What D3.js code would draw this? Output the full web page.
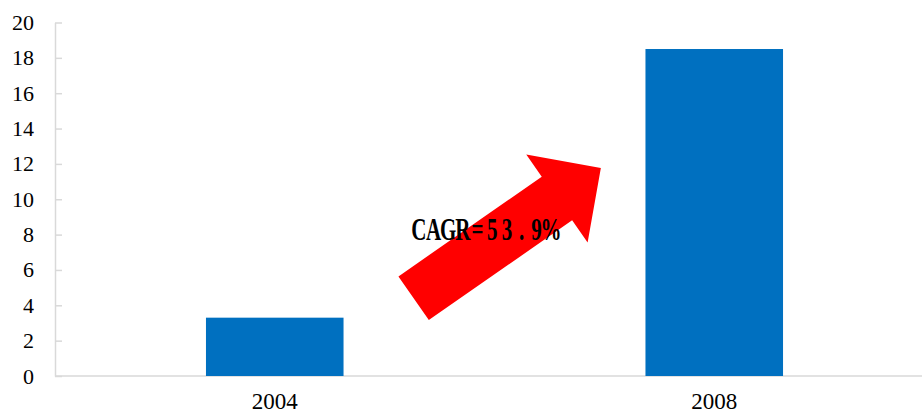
<!DOCTYPE html>
<meta charset="utf-8">
<style type="text/css">
	body { margin: 0; background: #fff; }
	.axis path, .axis line { stroke: #d9d9d9; stroke-width: 1.5px; }
	.axis text { font-family: "Liberation Serif", "Times New Roman", serif; fill: #000; }
	.cagr { font-family: "Liberation Serif", "Times New Roman", serif; font-weight: bold; fill: #000; }
</style>
<svg width="922" height="412"></svg>
<script src="https://d3js.org/d3.v7.min.js"></script>
<script type="text/javascript">
	// data
	var years = ["2004", "2008"];
	var values = [3.3, 18.5];
	var yTicks = [0, 2, 4, 6, 8, 10, 12, 14, 16, 18, 20];
	var cagrLabel = "CAGR=53.9%";
	// arrow from / to, in value units (x as share of plot width)
	var arrowFrom = [0.408, 4.4];
	var arrowTo = [0.621, 11.77];

	var svg = d3.select("svg"),
		width = +svg.attr("width"),
		height = +svg.attr("height");

	var plotLeft = 55, plotRight = 934, plotTop = 22.5, plotBottom = 376;

	var x = d3.scaleBand().domain(years).range([plotLeft, plotRight]).paddingInner(0.687).paddingOuter(0.3435);
	var y = d3.scaleLinear().domain([0, 20]).range([plotBottom, plotTop]);
	var xs = d3.scaleLinear().domain([0, 1]).range([plotLeft, plotRight]);

	// y axis, ticks point inward
	var ya = svg.append("g").attr("class", "axis").attr("transform", "translate(" + plotLeft + ",0)")
		.call(d3.axisLeft(y).tickValues(yTicks).tickSize(-7).tickSizeOuter(0).tickPadding(21));
	ya.selectAll("text").style("font-size", "22px");

	// x axis baseline
	var xa = svg.append("g").attr("class", "axis").attr("transform", "translate(0," + plotBottom + ")")
		.call(d3.axisBottom(x).tickSize(0).tickPadding(17));
	xa.select("path").attr("d", "M" + plotLeft + ",0H" + width);
	xa.selectAll("text").style("font-size", "23px");

	svg.append("g").selectAll("rect").data(values).enter().append("rect")
		.attr("x", function(d, i){ return x(years[i]); })
		.attr("y", function(d){ return y(d); })
		.attr("width", x.bandwidth())
		.attr("height", function(d){ return y(0) - y(d); })
		.attr("fill", "#0070C0");

	// arrow
	var x0 = xs(arrowFrom[0]), y0 = y(arrowFrom[1]), x1 = xs(arrowTo[0]), y1 = y(arrowTo[1]);
	var dx = x1 - x0, dy = y1 - y0, len = Math.sqrt(dx*dx + dy*dy);
	var ux = dx/len, uy = dy/len, px = -uy, py = ux;
	var shaft = 26.6, head = 53.7, headLen = 53.5;
	var bx = x1 - ux*headLen, by = y1 - uy*headLen;
	var pts = [
		[x0 + px*shaft, y0 + py*shaft],
		[bx + px*shaft, by + py*shaft],
		[bx + px*head, by + py*head],
		[x1, y1],
		[bx - px*head, by - py*head],
		[bx - px*shaft, by - py*shaft],
		[x0 - px*shaft, y0 - py*shaft]
	];
	svg.append("path").attr("d", d3.line()(pts) + "Z").attr("fill", "#ff0000");

	// label in fixed-width cells, stretched tall like the original
	var cell = 14.7;
	var chars = cagrLabel.split("");
	svg.append("text").attr("class", "cagr")
		.attr("transform", "translate(" + xs(0.4055) + "," + y(7.67) + ") scale(1,1.48)")
		.style("font-size", "21px")
		.attr("text-anchor", "middle")
		.attr("x", chars.map(function(c, i){ return cell/2 + i*cell; }).join(" "))
		.text(cagrLabel);
</script>
